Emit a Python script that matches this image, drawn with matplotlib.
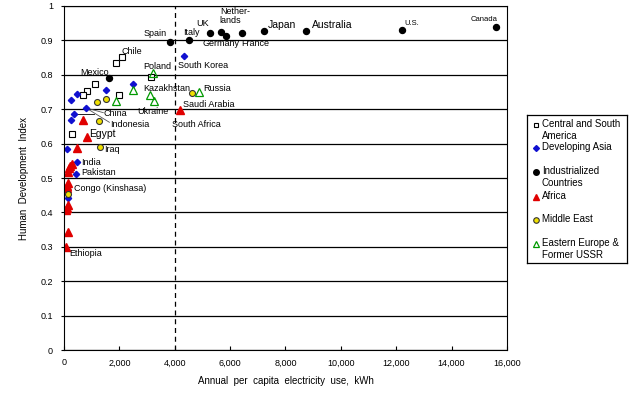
import matplotlib
matplotlib.use("Agg")
import matplotlib.pyplot as plt
from matplotlib.ticker import FuncFormatter, MultipleLocator

plt.rcParams["font.family"] = ["Liberation Sans", "DejaVu Sans"]

# --- Data: annual per capita electricity use (kWh) vs HDI ---
csa_kwh = [2090, 1880, 1120, 830, 690, 1990, 3140, 290]
csa_hdi = [0.852, 0.834, 0.773, 0.753, 0.741, 0.741, 0.794, 0.628]

asia_kwh = [4330, 2490, 1520, 470, 250, 790, 360, 250, 110, 470, 430, 110, 140]
asia_hdi = [0.855, 0.773, 0.756, 0.744, 0.727, 0.704, 0.686, 0.669, 0.584, 0.547, 0.512, 0.465, 0.442]

ind_kwh = [15600, 12200, 8740, 7220, 6430, 5670, 5270, 5850, 4510, 3830, 1620]
ind_hdi = [0.939, 0.930, 0.927, 0.927, 0.922, 0.924, 0.922, 0.913, 0.901, 0.895, 0.791]

afr_kwh = [4190, 690, 830, 470, 290, 220, 180, 150, 130, 110, 100, 150, 120, 90, 140, 60]
afr_hdi = [0.698, 0.669, 0.619, 0.587, 0.541, 0.535, 0.529, 0.517, 0.485, 0.477, 0.470, 0.421, 0.413, 0.407, 0.343, 0.300]

me_kwh = [4620, 1520, 1190, 1260, 1300, 150]
me_hdi = [0.747, 0.730, 0.721, 0.666, 0.590, 0.453]

ee_kwh = [3210, 4870, 2490, 3100, 3250, 1880]
ee_hdi = [0.805, 0.750, 0.756, 0.741, 0.724, 0.724]

groups = ["Central and South\nAmerica", "Developing Asia", "Industrialized\nCountries",
          "Africa", "Middle East", "Eastern Europe &\nFormer USSR"]

# country labels: (text, x, y, fontsize, ha)
labels = [
    ("Spain", 3720, 0.919, 6.5, "right"), ("Italy", 4300, 0.922, 6.5, "left"),
    ("UK", 4770, 0.948, 6.5, "left"), ("Nether-\nlands", 5630, 0.972, 6.5, "left"),
    ("Germany", 5020, 0.890, 6.5, "left"), ("France", 6390, 0.892, 6.5, "left"),
    ("Japan", 7360, 0.945, 7.5, "left"), ("Australia", 8950, 0.945, 7.5, "left"),
    ("U.S.", 12310, 0.950, 5.5, "left"), ("Canada", 14690, 0.960, 5.5, "left"),
    ("Chile", 2060, 0.869, 6.5, "left"), ("Mexico", 580, 0.808, 6.5, "left"),
    ("Poland", 2850, 0.823, 6.5, "left"), ("Kazakhstan", 2850, 0.759, 6.5, "left"),
    ("Ukraine", 2640, 0.692, 6.5, "left"), ("China", 1440, 0.689, 6.5, "left"),
    ("Indonesia", 1660, 0.657, 6.5, "left"), ("South Korea", 4120, 0.828, 6.5, "left"),
    ("Russia", 5020, 0.759, 6.5, "left"), ("Saudi Arabia", 4300, 0.715, 6.5, "left"),
    ("South Africa", 3900, 0.657, 6.5, "left"), ("Egypt", 900, 0.628, 7.5, "left"),
    ("Iraq", 1440, 0.584, 6.5, "left"), ("India", 610, 0.544, 6.5, "left"),
    ("Pakistan", 610, 0.515, 6.5, "left"), ("Congo (Kinshasa)", 360, 0.471, 6.5, "left"),
    ("Ethiopia", 180, 0.282, 6.5, "left"),
]

fig = plt.figure(figsize=(6.4, 3.97), dpi=100)
ax = fig.add_axes([0.1, 0.118, 0.692, 0.867])

ax.set_xlim(0, 16000)
ax.set_ylim(0, 1)
ax.yaxis.set_major_locator(MultipleLocator(0.1))
ax.xaxis.set_major_locator(MultipleLocator(2000))
ax.xaxis.set_major_formatter(FuncFormatter(lambda v, p: f"{int(v):,}"))
ax.yaxis.set_major_formatter(FuncFormatter(lambda v, p: "0" if v == 0 else ("1" if v == 1 else f"{v:.1f}")))
ax.grid(axis="y", color="black", lw=0.9)
ax.set_axisbelow(True)
ax.tick_params(axis="x", direction="in", length=3, labelsize=6.5, pad=6)
ax.tick_params(axis="y", direction="out", length=2, labelsize=6.5, pad=6)
ax.axvline(4000, color="black", lw=0.9, ls=(0, (4, 3)))

# leader lines for China / Indonesia
ax.plot([790, 1420], [0.704, 0.690], color="#555555", lw=0.6)
ax.plot([790, 1640], [0.704, 0.662], color="#555555", lw=0.6)
ax.plot([360, 1100], [0.686, 0.686], color="black", lw=0.6)

ax.plot(csa_kwh, csa_hdi, ls="none", marker="s", ms=4.2, mfc="white", mec="black", mew=0.8)
ax.plot(asia_kwh, asia_hdi, ls="none", marker="D", ms=3.2, mfc="#1010d0", mec="#1010d0")
ax.plot(ind_kwh, ind_hdi, ls="none", marker="o", ms=4.3, mfc="black", mec="black")
ax.plot(afr_kwh, afr_hdi, ls="none", marker="^", ms=6, mfc="#e00000", mec="#e00000")
ax.plot(me_kwh, me_hdi, ls="none", marker="o", ms=4.3, mfc="#f0e000", mec="#333333", mew=0.8)
ax.plot(ee_kwh, ee_hdi, ls="none", marker="^", ms=6, mfc="none", mec="#009900", mew=0.9)

for t, x, y, fs, ha in labels:
    ax.text(x, y, t, fontsize=fs, ha=ha, va="center", linespacing=1.0)

ax.set_ylabel("Human  Development  Index", fontsize=7, labelpad=8)
ax.set_xlabel("Annual  per  capita  electricity  use,  kWh", fontsize=7, labelpad=6)

# legend box drawn by hand to keep marker on the first line
lg = fig.add_axes([527 / 640, 1 - 263 / 397, 100 / 640, 148 / 397])
lg.set_xlim(0, 1)
lg.set_ylim(0, 1)
lg.set_xticks([])
lg.set_yticks([])
for s in lg.spines.values():
    s.set_linewidth(0.9)
styles = [
    dict(marker="s", ms=3.5, mfc="white", mec="black", mew=0.8),
    dict(marker="D", ms=3, mfc="#1010d0", mec="#1010d0"),
    dict(marker="o", ms=4, mfc="black", mec="black"),
    dict(marker="^", ms=5, mfc="#e00000", mec="#e00000"),
    dict(marker="o", ms=4, mfc="#f0e000", mec="#333333", mew=0.8),
    dict(marker="^", ms=5, mfc="none", mec="#009900", mew=0.9),
]
ypos = [0.932, 0.777, 0.615, 0.446, 0.291, 0.128]
for g, st, yy in zip(groups, styles, ypos):
    lg.plot([0.09], [yy], ls="none", **st)
    lg.text(0.15, yy + 0.04, g, fontsize=7, ha="left", va="top", linespacing=1.25)

fig.savefig("out.png", dpi=100)
